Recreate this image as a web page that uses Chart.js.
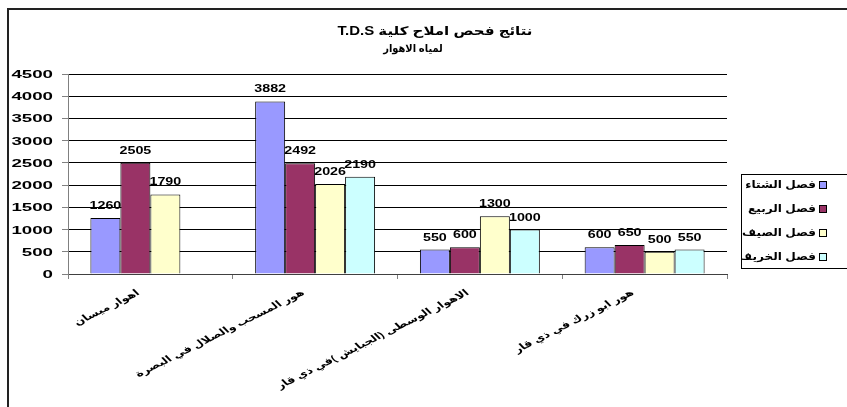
<!DOCTYPE html>
<html>
<head>
<meta charset="utf-8">
<script src="https://cdn.jsdelivr.net/npm/chart.js@4/dist/chart.umd.min.js"></script>
<style>
  html, body { margin: 0; padding: 0; background: #fff; overflow: hidden; }
</style>
</head>
<body>
<canvas id="myChart" width="847" height="407"></canvas>
<script>
// T.D.S results for the marshes, one bar per season
const titleLines = ['نتائج فحص املاح كلية T.D.S', 'لمياه الاهوار'];
const places = [
    'اهوار ميسان',
    'هور المسحب والصلال في البصرة',
    'الاهوار الوسطى (الجبايش )في ذي قار',
    'هور ابو زرك في ذي قار'
];
const seasons = ['فصل الشتاء', 'فصل الربيع', 'فصل الصيف', 'فصل الخريف'];
const winter = [1260, 3882, 550, 600];
const spring = [2505, 2492, 600, 650];
const summer = [1790, 2026, 1300, 500];
const autumn = [null, 2190, 1000, 550];
const yTicks = [0, 500, 1000, 1500, 2000, 2500, 3000, 3500, 4000, 4500];
const seasonColors = ['#9999FF', '#993366', '#FFFFCC', '#CCFFFF'];

const bold = (px) => `bold ${px}px "Liberation Sans", "DejaVu Sans", Arial, sans-serif`;

// text is drawn a bit wider than the font, sx is the horizontal stretch
function stretchText(ctx, text, x, y, sx, align, angle) {
    ctx.save();
    ctx.translate(x, y);
    ctx.scale(sx, 1);
    if (angle) ctx.rotate(-angle * Math.PI / 180);
    ctx.textAlign = align;
    ctx.fillText(text, 0, 0);
    ctx.restore();
}

const textPlugin = {
    id: 'textPlugin',
    afterDraw(chart) {
        const ctx = chart.ctx;
        const xs = chart.scales.x, ys = chart.scales.y;

        ctx.save();
        ctx.fillStyle = '#000';
        ctx.textBaseline = 'middle';
        ctx.direction = 'rtl';

        // outer frame
        ctx.strokeStyle = '#222';
        ctx.lineWidth = 2;
        ctx.strokeRect(8, 9, 900, 500);

        // title
        ctx.font = bold(12);
        stretchText(ctx, titleLines[0], 435, 32, 1.25, 'center');
        ctx.font = bold(11);
        stretchText(ctx, titleLines[1], 413, 49, 0.9, 'center');

        // y tick labels
        ctx.font = bold(11);
        yTicks.forEach(v => {
            stretchText(ctx, String(v), 53, ys.getPixelForValue(v) + 1, 1.7, 'right');
        });

        // category labels, slanted
        ctx.font = bold(9);
        places.forEach((p, i) => {
            stretchText(ctx, p, xs.getPixelForValue(i) - 12, 292, 1.4, 'right', 35);
        });

        // value labels above the bars
        ctx.font = bold(11);
        chart.data.datasets.forEach((ds, di) => {
            const meta = chart.getDatasetMeta(di);
            meta.data.forEach((bar, i) => {
                const v = ds.data[i];
                if (v == null) return;
                stretchText(ctx, String(v), bar.x, bar.y - 12, 1.3, 'center');
            });
        });

        // legend box on the right
        const lx = 741, ly = 174, lh = 94;
        ctx.strokeStyle = '#000';
        ctx.lineWidth = 1;
        ctx.strokeRect(lx + 0.5, ly + 0.5, 200, lh);
        ctx.beginPath();
        ctx.rect(lx + 1, ly + 1, 200, lh - 1);
        ctx.clip();
        ctx.font = bold(11);
        seasons.forEach((s, i) => {
            const cy = ly + 11 + i * 24;
            ctx.fillStyle = seasonColors[i];
            ctx.fillRect(819, cy - 4, 8, 8);
            ctx.strokeRect(819.5, cy - 3.5, 7, 7);
            ctx.fillStyle = '#000';
            stretchText(ctx, s, 816, cy, 1.1, 'right');
        });
        ctx.restore();
    }
};

const seriesData = [winter, spring, summer, autumn];

new Chart(document.getElementById('myChart'), {
    type: 'bar',
    data: {
        labels: places,
        datasets: seasons.map((s, i) => ({
            label: s,
            data: seriesData[i],
            backgroundColor: seasonColors[i],
            borderColor: '#000',
            borderWidth: 1,
            borderSkipped: 'bottom',
            categoryPercentage: 0.728,
            barPercentage: 1
        }))
    },
    options: {
        responsive: false,
        animation: false,
        devicePixelRatio: 1,
        layout: { padding: { left: 8, top: 74, right: 120, bottom: 0 } },
        plugins: {
            legend: { display: false },
            title: { display: false },
            tooltip: { enabled: false }
        },
        scales: {
            x: {
                offset: true,
                grid: { display: true, drawOnChartArea: false, offset: true, tickLength: 5, color: '#808080' },
                border: { color: '#404040' },
                ticks: { display: false },
                afterFit(scale) { scale.height = 133; }
            },
            y: {
                min: 0,
                max: 4500,
                ticks: { display: false, stepSize: 500 },
                grid: { color: '#000', tickLength: 6, tickColor: '#808080' },
                border: { color: '#808080' },
                afterFit(scale) { scale.width = 60; }
            }
        }
    },
    plugins: [textPlugin]
});
</script>
</body>
</html>
